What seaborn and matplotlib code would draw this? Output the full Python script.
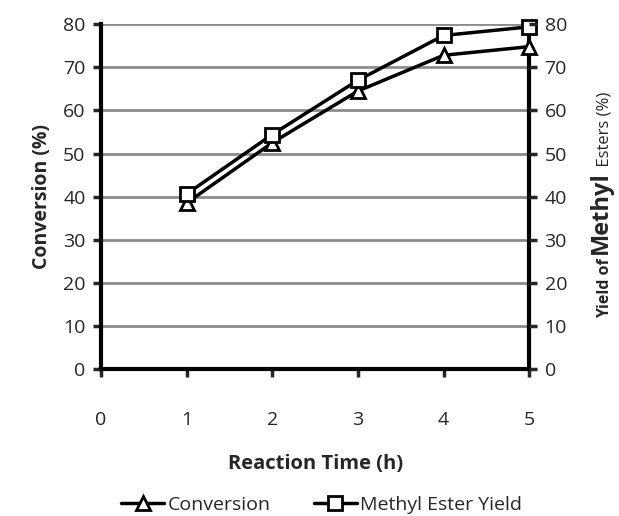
import matplotlib
matplotlib.use("Agg")
import matplotlib.pyplot as plt
from matplotlib.lines import Line2D
import seaborn as sns
import pandas as pd

# data
reaction_time = [1, 2, 3, 4, 5]
conversion = [38.5, 52.5, 64.5, 72.8, 74.8]
methyl_ester_yield = [40.6, 54.4, 67.0, 77.4, 79.4]
x_ticks = [0, 1, 2, 3, 4, 5]
y_ticks = [0, 10, 20, 30, 40, 50, 60, 70, 80]

sns.set_style("white")
plt.rcParams['font.family'] = ['Open Sans', 'DejaVu Sans']

df = pd.DataFrame({
    'time': reaction_time * 2,
    'value': conversion + methyl_ester_yield,
    'series': ['Conversion'] * 5 + ['Methyl Ester Yield'] * 5,
})

fig = plt.figure(figsize=(6.19, 5.16), dpi=100)
ax = fig.add_axes([0.163, 0.285, 0.692, 0.668])

# gridlines
for v in y_ticks[1:]:
    ax.axhline(v, color='#8c8c8c', lw=2, zorder=0)

sns.lineplot(data=df, x='time', y='value', style='series',
             markers={'Conversion': '^', 'Methyl Ester Yield': 's'},
             dashes=False, color='black', lw=2.5, markersize=10,
             markerfacecolor='white', markeredgecolor='black',
             markeredgewidth=2, ax=ax, legend=False, clip_on=False, zorder=5)

ax.set_xlim(0, 5)
ax.set_ylim(0, 80)
ax.set_xticks(x_ticks)
ax.set_yticks(y_ticks)

for side in ['left', 'right', 'bottom']:
    ax.spines[side].set_linewidth(3)
    ax.spines[side].set_color('black')
ax.spines['top'].set_visible(False)

ax.tick_params(axis='y', direction='out', length=6, width=2.5, labelsize=14, pad=5, left=True)
ax.tick_params(axis='x', direction='out', length=6, width=2.5, labelsize=14, pad=24, bottom=True)

ax.set_xlabel('Reaction Time (h)', fontsize=14.5, fontweight='bold', labelpad=18)
ax.set_ylabel('Conversion (%)', fontsize=14, fontweight='bold', labelpad=8)

ax2 = ax.twinx()
ax2.set_ylim(0, 80)
ax2.set_yticks(y_ticks)
ax2.tick_params(axis='y', direction='out', length=6, width=2.5, labelsize=14, pad=5, right=True)
for side in ['left', 'right', 'bottom', 'top']:
    ax2.spines[side].set_visible(False)

# right axis label in mixed sizes, pieces stacked upward
renderer = fig.canvas.get_renderer()
label_x = 0.99
y_pos = 1 - 318 / 516
pieces = [('Yield of ', 11.5, 'bold'), ('Methyl', 17, 'bold'), (' Esters (%)', 12, 'normal')]
for txt, size, weight in pieces:
    t = fig.text(label_x, y_pos, txt, rotation=90, fontsize=size,
                 fontweight=weight, ha='right', va='bottom')
    bb = t.get_window_extent(renderer)
    y_pos = bb.y1 / fig.bbox.height

handles = [
    Line2D([], [], color='black', lw=2.5, marker='^', markersize=10,
           markerfacecolor='white', markeredgewidth=2),
    Line2D([], [], color='black', lw=2.5, marker='s', markersize=10,
           markerfacecolor='white', markeredgewidth=2),
]
fig.legend(handles, ['Conversion', 'Methyl Ester Yield'], loc='center',
           bbox_to_anchor=(0.52, 0.022), ncol=2, frameon=False,
           fontsize=14, handlelength=2.2, handletextpad=0.2, columnspacing=2.2)

fig.savefig('out.png', dpi=100)
plt.close(fig)
